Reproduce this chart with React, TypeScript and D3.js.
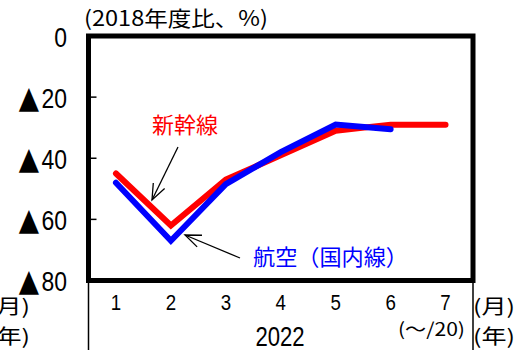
import React from "react";
import * as d3 from "d3";

const months = ["1", "2", "3", "4", "5", "6", "7"];
const shinkansen = [-45, -62, -47, -39, -31, -29, -29];
const airDomestic = [-48, -67, -48.5, -38, -29, -30.5];
const yTicks = [0, -20, -40, -60, -80];

const W = 516;
const H = 350;
const plot = { left: 88.5, right: 473, top: 36, bottom: 280.5 };

const NUM_FONT = "'Liberation Sans', Arial, sans-serif";
const JP_FONT = "'Noto Sans CJK JP', 'Noto Sans', sans-serif";

type NarrowProps = {
  x: number;
  y: number;
  size: number;
  sx?: number;
  anchor?: "start" | "middle" | "end";
  fill?: string;
  family?: string;
  children: React.ReactNode;
};

// condensed numeric text: horizontally squeezed glyphs
function Narrow({ x, y, size, sx = 0.82, anchor = "middle", fill = "#000", family = NUM_FONT, children }: NarrowProps) {
  return (
    <text
      transform={`translate(${x},${y}) scale(${sx},1)`}
      dy="0.36em"
      textAnchor={anchor}
      fontSize={size}
      fontFamily={family}
      fill={fill}
    >
      {children}
    </text>
  );
}

export default function App() {
  const x = d3
    .scaleBand<string>()
    .domain(months)
    .range([plot.left, plot.right]);
  const y = d3.scaleLinear().domain([0, -80]).range([plot.top, plot.bottom]);
  const cx = (i: number) => (x(months[i]) as number) + x.bandwidth() / 2;

  const line = d3
    .line<number>()
    .x((_, i) => cx(i))
    .y((d) => y(d));

  const arrowHead = (x1: number, y1: number, x2: number, y2: number, len = 17, ang = 0.38) => {
    const a = Math.atan2(y1 - y2, x1 - x2);
    const p1 = [x2 + len * Math.cos(a + ang), y2 + len * Math.sin(a + ang)];
    const p2 = [x2 + len * Math.cos(a - ang), y2 + len * Math.sin(a - ang)];
    return `M${p1[0]},${p1[1]}L${x2},${y2}L${p2[0]},${p2[1]}`;
  };

  return (
    <svg
      width={W}
      height={H}
      style={{ position: "absolute", left: 0, top: 0, background: "#fff" }}
    >
      {/* unit caption */}
      <text
        x={84}
        y={18}
        dy="0.36em"
        fontSize={21}
        fontFamily={JP_FONT}
        fill="#000"
        textLength={184}
        lengthAdjust="spacingAndGlyphs"
      >
        (2018年度比、%)
      </text>

      {/* y tick labels: negative values carry a filled triangle */}
      {yTicks.map((t) => (
        <Narrow key={t} x={67} y={y(t) + 1} size={27} anchor="end" sx={0.85}>
          {t < 0 && (
            <tspan fontFamily="'DejaVu Sans', sans-serif" fontSize={31}>
              ▲
            </tspan>
          )}
          <tspan dx={t < 0 ? 3 : 0}>{Math.abs(t)}</tspan>
        </Narrow>
      ))}

      {/* inner tick marks */}
      {yTicks.slice(1, -1).map((t) => (
        <line
          key={t}
          x1={plot.left}
          x2={plot.left + 8}
          y1={y(t)}
          y2={y(t)}
          stroke="#000"
          strokeWidth={1.5}
        />
      ))}

      {/* series */}
      <path
        d={line(shinkansen) as string}
        fill="none"
        stroke="#ff0000"
        strokeWidth={6}
        strokeLinecap="round"
        strokeLinejoin="miter"
      />
      <path
        d={line(airDomestic) as string}
        fill="none"
        stroke="#0000ff"
        strokeWidth={6}
        strokeLinecap="round"
        strokeLinejoin="miter"
      />

      {/* plot frame */}
      <rect
        x={plot.left}
        y={plot.top}
        width={plot.right - plot.left}
        height={plot.bottom - plot.top}
        fill="none"
        stroke="#000"
        strokeWidth={5}
      />

      {/* category axis separators */}
      <line x1={plot.left} x2={plot.left} y1={plot.bottom} y2={H} stroke="#000" strokeWidth={1.5} />
      <line x1={plot.right} x2={plot.right} y1={plot.bottom} y2={H} stroke="#000" strokeWidth={1.5} />

      {/* month labels */}
      {months.map((m, i) => (
        <Narrow key={m} x={cx(i)} y={302} size={22} sx={0.85}>
          {m}
        </Narrow>
      ))}
      <Narrow x={280} y={336} size={27} sx={0.82}>
        2022
      </Narrow>
      <text
        x={398}
        y={330}
        dy="0.36em"
        fontSize={18}
        fontFamily={JP_FONT}
        fill="#000"
        textLength={67}
        lengthAdjust="spacingAndGlyphs"
      >
        (～/20)
      </text>

      {/* axis unit labels */}
      {[
        { label: "(月)", yy: 307 },
        { label: "(年)", yy: 337 },
      ].map((u) => (
        <g key={u.label}>
          <text
            x={473}
            y={u.yy}
            dy="0.36em"
            fontSize={20}
            fontFamily={JP_FONT}
            fill="#000"
            textLength={42}
            lengthAdjust="spacingAndGlyphs"
          >
            {u.label}
          </text>
          <text
            x={-12}
            y={u.yy}
            dy="0.36em"
            fontSize={20}
            fontFamily={JP_FONT}
            fill="#000"
            textLength={42}
            lengthAdjust="spacingAndGlyphs"
          >
            {u.label}
          </text>
        </g>
      ))}

      {/* callouts */}
      <text x={152} y={125} dy="0.36em" fontSize={22} fontFamily={JP_FONT} fill="#ff0000">
        新幹線
      </text>
      <line x1={178} y1={147} x2={152} y2={200} stroke="#000" strokeWidth={1.3} />
      <path d={arrowHead(178, 147, 152, 200)} fill="none" stroke="#000" strokeWidth={1.3} />

      <text
        x={253}
        y={257}
        dy="0.36em"
        fontSize={22}
        fontFamily={JP_FONT}
        fill="#0000ff"
        textLength={155}
        lengthAdjust="spacingAndGlyphs"
      >
        航空（国内線）
      </text>
      <line x1={240} y1={258} x2={185} y2={235} stroke="#000" strokeWidth={1.3} />
      <path d={arrowHead(240, 258, 185, 235)} fill="none" stroke="#000" strokeWidth={1.3} />
    </svg>
  );
}
